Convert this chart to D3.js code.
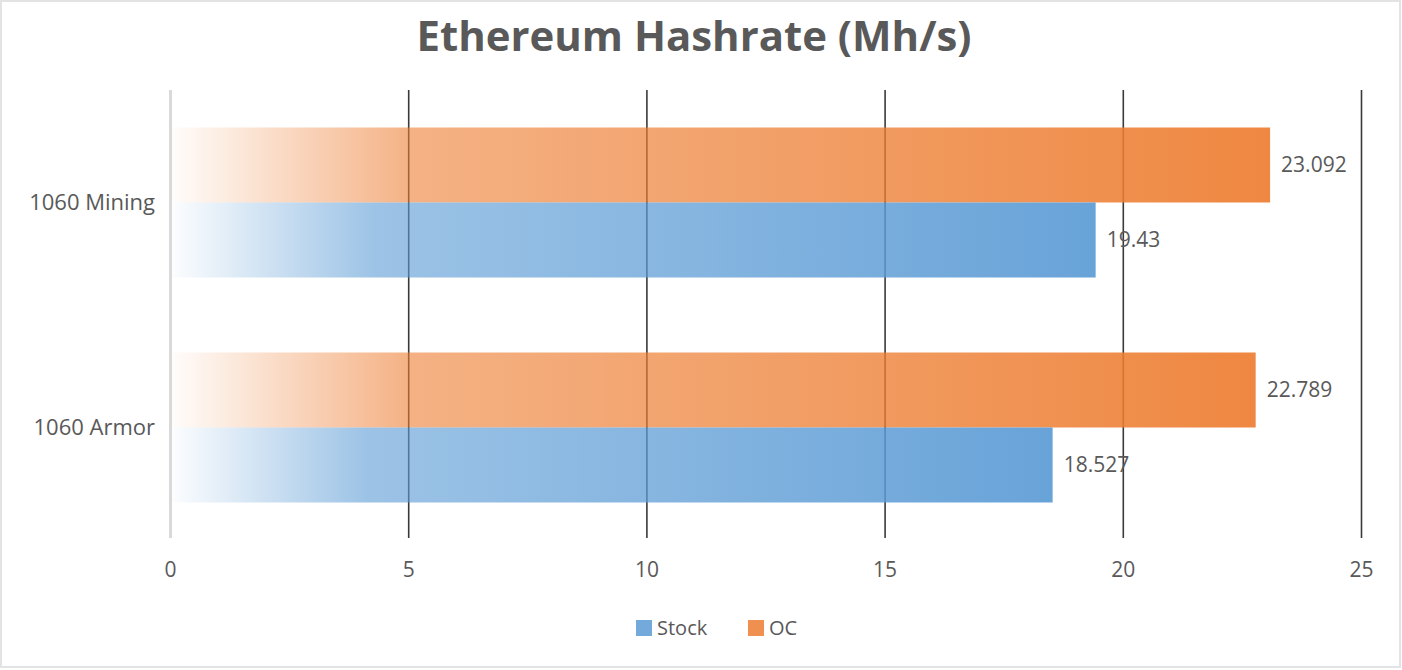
<!DOCTYPE html>
<html>
<head>
<meta charset="utf-8">
<title>Ethereum Hashrate</title>
<style>
  body { margin: 0; overflow: hidden; background: #fff; }
  svg text { font-family: "Open Sans", "Liberation Sans", sans-serif; fill: #595959; }
</style>
<script src="https://d3js.org/d3.v7.min.js"></script>
</head>
<body>
<script>
// chart data
const categories = ["1060 Mining", "1060 Armor"];
const seriesNames = ["OC", "Stock"];
const ocValues = [23.092, 22.789];
const stockValues = [19.43, 18.527];
const xTicks = [0, 5, 10, 15, 20, 25];
const seriesColors = { "Stock": "#5B9BD5", "OC": "#ED7D31" };

const W = 1402, H = 670;
const margin = { left: 170, right: 41, top: 90, bottom: 130 };

const svg = d3.select("body").append("svg")
    .attr("width", W)
    .attr("height", H);

// outer frame
svg.append("rect")
    .attr("x", 1).attr("y", 1)
    .attr("width", W - 3).attr("height", H - 4)
    .attr("fill", "#fff")
    .attr("stroke", "#E3E3E3")
    .attr("stroke-width", 2);

const defs = svg.append("defs");
for (const name of seriesNames) {
    const g = defs.append("linearGradient")
        .attr("id", "grad-" + name)
        .attr("x1", 0).attr("x2", 1).attr("y1", 0).attr("y2", 0);
    g.append("stop").attr("offset", 0).attr("stop-color", seriesColors[name]).attr("stop-opacity", 0.02);
    g.append("stop").attr("offset", 0.22).attr("stop-color", seriesColors[name]).attr("stop-opacity", 0.6);
    g.append("stop").attr("offset", 1).attr("stop-color", seriesColors[name]).attr("stop-opacity", 0.92);
}

const x = d3.scaleLinear()
    .domain([0, 25])
    .range([margin.left, W - margin.right]);

const y = d3.scaleBand()
    .domain(categories)
    .range([margin.top, H - margin.bottom])
    .paddingInner(1 / 3)
    .paddingOuter(1 / 6);

const ySub = d3.scaleBand()
    .domain(seriesNames)
    .range([0, y.bandwidth()]);

// title
svg.append("text")
    .attr("x", 694)
    .attr("y", 51)
    .attr("text-anchor", "middle")
    .attr("textLength", 555)
    .attr("lengthAdjust", "spacingAndGlyphs")
    .style("font-size", "42px")
    .style("font-weight", "bold")
    .text("Ethereum Hashrate (Mh/s)");

// gridlines + x tick labels
const gridBottom = 538;
const xAxis = svg.append("g")
    .attr("transform", `translate(0,${gridBottom})`)
    .call(d3.axisBottom(x)
        .tickValues(xTicks)
        .tickSize(-(gridBottom - margin.top))
        .tickPadding(24)
        .tickFormat(d3.format("d")));
xAxis.select(".domain").remove();
xAxis.selectAll(".tick line")
    .attr("stroke", d => d === 0 ? "#D9D9D9" : "#3A3A3A")
    .attr("stroke-width", d => d === 0 ? 3 : 1.6);
xAxis.selectAll(".tick text")
    .attr("fill", "#595959")
    .style("font-size", "21px");

// category labels
const yAxis = svg.append("g")
    .attr("transform", `translate(${margin.left},0)`)
    .call(d3.axisLeft(y).tickSize(0).tickPadding(15));
yAxis.select(".domain").remove();
yAxis.selectAll(".tick text")
    .attr("fill", "#595959")
    .style("font-size", "22px");

// bars
const rows = [];
categories.forEach((c, i) => {
    rows.push({ cat: c, series: "OC", value: ocValues[i] });
    rows.push({ cat: c, series: "Stock", value: stockValues[i] });
});

svg.append("g").selectAll("rect")
    .data(rows)
    .join("rect")
    .attr("x", x(0) + 2)
    .attr("y", d => y(d.cat) + ySub(d.series))
    .attr("width", d => x(d.value) - x(0) - 2)
    .attr("height", ySub.bandwidth())
    .attr("fill", d => `url(#grad-${d.series})`);

// value labels
svg.append("g").selectAll("text")
    .data(rows)
    .join("text")
    .attr("x", d => x(d.value) + 11)
    .attr("y", d => y(d.cat) + ySub(d.series) + ySub.bandwidth() / 2)
    .attr("dy", "0.35em")
    .style("font-size", "21px")
    .text(d => d.value);

// legend
const legendItems = [
    { name: "Stock", x: 636 },
    { name: "OC", x: 748 }
];
const legend = svg.append("g").attr("transform", "translate(0,628)");
const li = legend.selectAll("g")
    .data(legendItems)
    .join("g")
    .attr("transform", d => `translate(${d.x},0)`);
li.append("rect")
    .attr("y", -8)
    .attr("width", 16)
    .attr("height", 16)
    .attr("fill", d => seriesColors[d.name])
    .attr("fill-opacity", 0.85);
li.append("text")
    .attr("x", 21)
    .attr("dy", "0.35em")
    .style("font-size", "20px")
    .text(d => d.name);
</script>
</body>
</html>
